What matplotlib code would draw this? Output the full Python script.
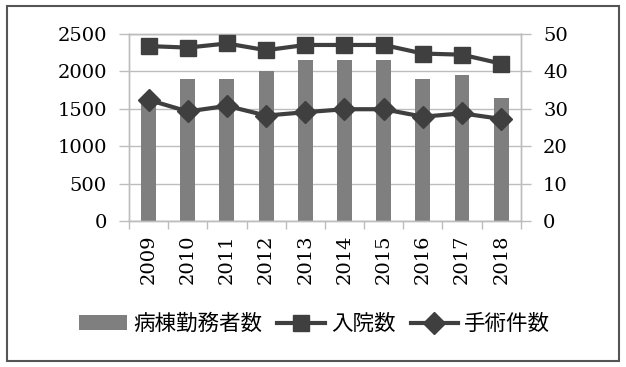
import matplotlib
matplotlib.use("Agg")
import matplotlib.pyplot as plt
from matplotlib.patches import Rectangle

years = ["2009", "2010", "2011", "2012", "2013", "2014", "2015", "2016", "2017", "2018"]
staff = [1650, 1900, 1900, 2000, 2150, 2150, 2150, 1900, 1950, 1650]
admissions = [46.8, 46.4, 47.5, 45.7, 47.1, 47.1, 47.1, 44.8, 44.5, 42.1]
surgeries = [32.4, 29.3, 30.8, 28.2, 29.1, 29.9, 29.9, 27.9, 28.8, 27.3]
left_ticks = [0, 500, 1000, 1500, 2000, 2500]
right_ticks = [0, 10, 20, 30, 40, 50]
labels = ["病棟勤務者数", "入院数", "手術件数"]

bar_color = "#7f7f7f"
line_color = "#3f3f3f"
grid_color = "#bdbdbd"

fig = plt.figure(figsize=(6.26, 3.67), dpi=100)
ax = fig.add_axes([0.206, 0.398, 0.626, 0.509])
ax2 = ax.twinx()

x = list(range(len(years)))
b = ax.bar(x, staff, width=0.38, color=bar_color, zorder=2)
ax.set_ylim(0, 2500)
ax.set_xlim(-0.5, len(years) - 0.5)
ax.set_yticks(left_ticks)
ax.set_xticks([i - 0.5 for i in range(len(years) + 1)], minor=False)
ax.set_xticklabels([])
ax.set_xticks(x, minor=True)
ax.set_xticklabels(years, minor=True, rotation=90, fontfamily="DejaVu Serif", fontsize=14)
ax.tick_params(axis="x", which="minor", length=0, pad=10)
ax.tick_params(axis="x", which="major", length=6, color=grid_color, width=1)
ax.tick_params(axis="y", length=7, color=grid_color, width=1, pad=9)
for lab in ax.get_yticklabels():
    lab.set_fontfamily("DejaVu Serif")
    lab.set_fontsize(14)
ax.yaxis.grid(True, color=grid_color, linewidth=1, zorder=0)
ax.set_axisbelow(True)
for s in ax.spines.values():
    s.set_color(grid_color)
    s.set_linewidth(1)

l1, = ax2.plot(x, admissions, color=line_color, linewidth=3, marker="s", markersize=12, zorder=3)
l2, = ax2.plot(x, surgeries, color=line_color, linewidth=3, marker="D", markersize=11.5, zorder=3)
ax2.set_ylim(0, 50)
ax2.set_yticks(right_ticks)
ax2.tick_params(axis="y", length=7, color=grid_color, width=1, pad=9)
for lab in ax2.get_yticklabels():
    lab.set_fontfamily("DejaVu Serif")
    lab.set_fontsize(14)
for s in ax2.spines.values():
    s.set_color(grid_color)
    s.set_linewidth(1)

leg = fig.legend([b, l1, l2], labels, loc="center", bbox_to_anchor=(0.503, 0.117), ncol=3,
                 frameon=False, prop={"family": ["Noto Sans CJK JP", "DejaVu Sans"], "size": 15.5},
                 handlelength=2.2, handletextpad=0.3, columnspacing=0.7, borderaxespad=0)

fig.patches.append(Rectangle((7 / 626, 6 / 367), 612 / 626, 355 / 367, transform=fig.transFigure,
                             fill=False, edgecolor="#555555", linewidth=1.5))

fig.savefig("out.png", dpi=100)
